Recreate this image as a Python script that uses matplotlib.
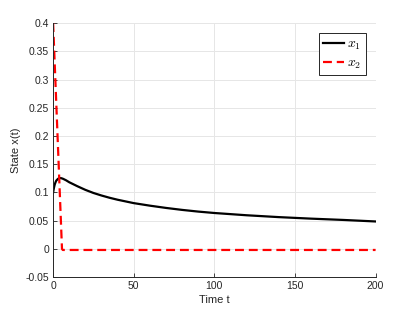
import matplotlib
matplotlib.use("Agg")
import matplotlib.pyplot as plt

# state trajectories
t1 = [0, 0.5, 1, 1.5, 2, 3, 4, 5, 6, 8, 10, 12.5, 15, 20, 25, 30, 35, 40, 50, 60, 70,
      80, 90, 100, 120, 140, 160, 180, 200]
x1 = [0.100, 0.108, 0.114, 0.118, 0.121, 0.124, 0.1255, 0.1252, 0.1243, 0.1215, 0.118,
      0.1145, 0.111, 0.1045, 0.099, 0.0945, 0.0905, 0.087, 0.081, 0.0765, 0.0725,
      0.069, 0.066, 0.0635, 0.0595, 0.0562, 0.0535, 0.0512, 0.0485]

t2 = [0, 5.5, 6, 50, 100, 150, 200]
x2 = [0.400, 0.000, -0.002, -0.002, -0.002, -0.002, -0.002]

plt.rcParams['font.family'] = ['Liberation Sans', 'DejaVu Sans']
plt.rcParams['mathtext.fontset'] = 'cm'

fig = plt.figure(figsize=(4.15, 3.12), dpi=100)
ax = fig.add_axes([0.128, 0.112, 0.777, 0.814])

ax.plot(t1, x1, color='black', linewidth=1.6, label='$x_1$')
ax.plot(t2, x2, color='red', linewidth=1.6, linestyle=(0, (4, 2.2)), label='$x_2$')

ax.set_xlim(0, 200)
ax.set_ylim(-0.05, 0.4)
ax.set_xticks([0, 50, 100, 150, 200])
ax.set_yticks([-0.05, 0, 0.05, 0.1, 0.15, 0.2, 0.25, 0.3, 0.35, 0.4])
ax.set_yticklabels(['-0.05', '0', '0.05', '0.1', '0.15', '0.2', '0.25', '0.3', '0.35', '0.4'])
ax.grid(True, color='#e6e6e6', linewidth=0.7)
ax.set_axisbelow(True)

for side in ['top', 'right']:
    ax.spines[side].set_visible(False)
for side in ['left', 'bottom']:
    ax.spines[side].set_color('#262626')
    ax.spines[side].set_linewidth(0.7)
ax.tick_params(direction='in', length=3, width=0.6, colors='#262626', labelsize=7.5, pad=3)

ax.set_xlabel('Time t', fontsize=8, color='#262626', labelpad=3)
ax.set_ylabel('State x(t)', fontsize=8, color='#262626', labelpad=3)

leg = ax.legend(loc='upper right', fontsize=10, fancybox=False, framealpha=1,
                edgecolor='#262626', handlelength=1.5, handletextpad=0.25,
                borderpad=0.3, labelspacing=0.25, borderaxespad=0.7)
leg.get_frame().set_linewidth(0.7)

fig.savefig('out.png', dpi=100)
